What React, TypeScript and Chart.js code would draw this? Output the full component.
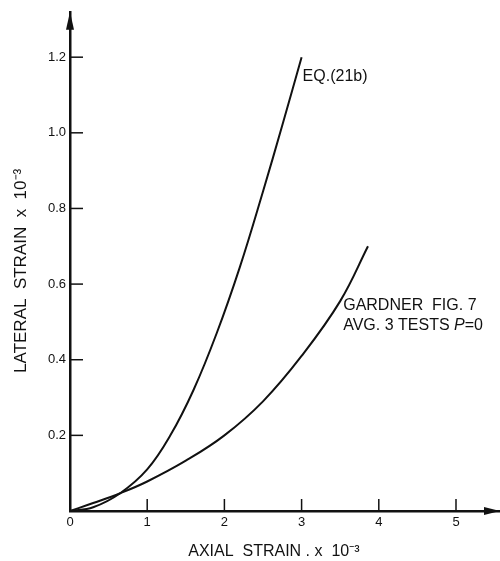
import React, { useEffect, useRef } from "react";
import { Chart, registerables } from "chart.js";

Chart.register(...registerables);

// Data (units x 10^-3)
const eqX = [0, 0.3, 0.65, 1.0, 1.3, 1.6, 1.9, 2.2, 2.5, 2.75, 3.0];
const eqY = [0, 0.01, 0.047, 0.11, 0.2, 0.32, 0.47, 0.645, 0.845, 1.02, 1.2];
const gardnerX = [0, 0.3, 0.65, 1.0, 1.5, 2.0, 2.5, 3.0, 3.5, 3.86];
const gardnerY = [0, 0.021, 0.047, 0.078, 0.133, 0.2, 0.29, 0.41, 0.555, 0.7];

const xTicks = [0, 1, 2, 3, 4, 5];
const yTicks = [0, 0.2, 0.4, 0.6, 0.8, 1.0, 1.2];
const xTickLabels = ["0", "1", "2", "3", "4", "5"];
const yTickLabels = ["", "0.2", "0.4", "0.6", "0.8", "1.0", "1.2"];

const eqLabel = "EQ.(21b)";
const gardnerLabel1 = "GARDNER  FIG. 7";
const gardnerLabel2a = "AVG. 3 TESTS ";
const gardnerLabel2b = "P";
const gardnerLabel2c = "=0";
const xTitle = "AXIAL  STRAIN . x  10⁻³     ";
const yTitle = "LATERAL  STRAIN  x  10⁻³    ";

const FONT = "'Liberation Sans', Arial, sans-serif";
const INK = "#111";

const decor = {
  id: "decor",
  afterDraw(chart: any) {
    const ctx = chart.ctx as CanvasRenderingContext2D;
    const xs = chart.scales.x;
    const ys = chart.scales.y;
    const { left, right, top, bottom } = chart.chartArea;
    ctx.save();
    ctx.strokeStyle = INK;
    ctx.fillStyle = INK;
    ctx.lineWidth = 1.5;
    // inward tick marks
    xTicks.forEach((v) => {
      if (v === 0) return;
      const px = xs.getPixelForValue(v);
      ctx.beginPath();
      ctx.moveTo(px, bottom);
      ctx.lineTo(px, bottom - 12);
      ctx.stroke();
    });
    yTicks.forEach((v) => {
      if (v === 0) return;
      const py = ys.getPixelForValue(v);
      ctx.beginPath();
      ctx.moveTo(left, py);
      ctx.lineTo(left + 13, py);
      ctx.stroke();
    });
    // arrow heads
    ctx.beginPath();
    ctx.moveTo(left, top);
    ctx.lineTo(left - 4, top + 18);
    ctx.lineTo(left + 4, top + 18);
    ctx.closePath();
    ctx.fill();
    ctx.beginPath();
    ctx.moveTo(right, bottom);
    ctx.lineTo(right - 16, bottom - 4);
    ctx.lineTo(right - 16, bottom + 4);
    ctx.closePath();
    ctx.fill();

    // curve labels
    ctx.textBaseline = "top";
    ctx.textAlign = "left";
    ctx.font = `16px ${FONT}`;
    const eqN = eqX.length - 1;
    const ex = xs.getPixelForValue(eqX[eqN]);
    const ey = ys.getPixelForValue(eqY[eqN]);
    ctx.fillText(eqLabel, ex + 1, ey + 11);

    const gi = gardnerX.length - 2;
    const gx = xs.getPixelForValue(gardnerX[gi]) + 3;
    const gy = ys.getPixelForValue(gardnerY[gi]) - 4;
    ctx.fillText(gardnerLabel1, gx, gy);
    let cx = gx;
    const y2 = gy + 20;
    ctx.fillText(gardnerLabel2a, cx, y2);
    cx += ctx.measureText(gardnerLabel2a).width;
    ctx.font = `italic 16px ${FONT}`;
    ctx.fillText(gardnerLabel2b, cx, y2);
    cx += ctx.measureText(gardnerLabel2b).width;
    ctx.font = `16px ${FONT}`;
    ctx.fillText(gardnerLabel2c, cx, y2);
    ctx.restore();
  },
};

export default function App() {
  const ref = useRef<HTMLCanvasElement | null>(null);
  useEffect(() => {
    if (!ref.current) return;
    const chart = new Chart(ref.current, {
      type: "line",
      data: {
        datasets: [
          {
            label: "EQ. (21b)",
            data: eqX.map((x, i) => ({ x, y: eqY[i] })),
            borderColor: INK,
            borderWidth: 2,
            pointRadius: 0,
            tension: 0.4,
            fill: false,
          },
          {
            label: "Gardner Fig. 7",
            data: gardnerX.map((x, i) => ({ x, y: gardnerY[i] })),
            borderColor: INK,
            borderWidth: 2,
            pointRadius: 0,
            tension: 0.4,
            fill: false,
          },
        ],
      },
      options: {
        animation: false,
        responsive: true,
        maintainAspectRatio: false,
        layout: { padding: { top: 7, right: 0, left: 0, bottom: 0 } },
        plugins: { legend: { display: false }, tooltip: { enabled: false } },
        scales: {
          x: {
            type: "linear",
            min: 0,
            max: 5.57,
            grid: { display: false, drawTicks: false },
            border: { display: true, color: INK, width: 2.5 },
            afterBuildTicks: (s: any) => {
              s.ticks = xTicks.map((v) => ({ value: v }));
            },
            afterFit: (s: any) => {
              s.height = 50;
            },
            ticks: {
              padding: 4,
              color: INK,
              font: { family: FONT, size: 13 },
              maxRotation: 0,
              callback: (v: any) => {
                const i = xTicks.indexOf(Number(v));
                return i >= 0 ? xTickLabels[i] : "";
              },
            },
            title: {
              display: true,
              text: xTitle,
              color: INK,
              font: { family: FONT, size: 16 },
              padding: { top: 0, bottom: 0 },
            },
          },
          y: {
            type: "linear",
            min: 0,
            max: 1.32,
            grid: { display: false, drawTicks: false },
            border: { display: true, color: INK, width: 2.5 },
            afterBuildTicks: (s: any) => {
              s.ticks = yTicks.map((v) => ({ value: v }));
            },
            afterFit: (s: any) => {
              s.width = 70;
            },
            ticks: {
              padding: 4,
              color: INK,
              font: { family: FONT, size: 13 },
              callback: (v: any) => {
                const i = yTicks.findIndex((t) => Math.abs(t - Number(v)) < 1e-6);
                return i >= 0 ? yTickLabels[i] : "";
              },
            },
            title: {
              display: true,
              text: yTitle,
              color: INK,
              font: { family: FONT, size: 17 },
              padding: { top: 11, bottom: 0 },
            },
          },
        },
      } as any,
      plugins: [decor],
    });
    return () => chart.destroy();
  }, []);
  return (
    <div style={{ position: "fixed", left: 0, top: 0, width: 500, height: 561, background: "#fff" }}>
      <canvas ref={ref} />
    </div>
  );
}
